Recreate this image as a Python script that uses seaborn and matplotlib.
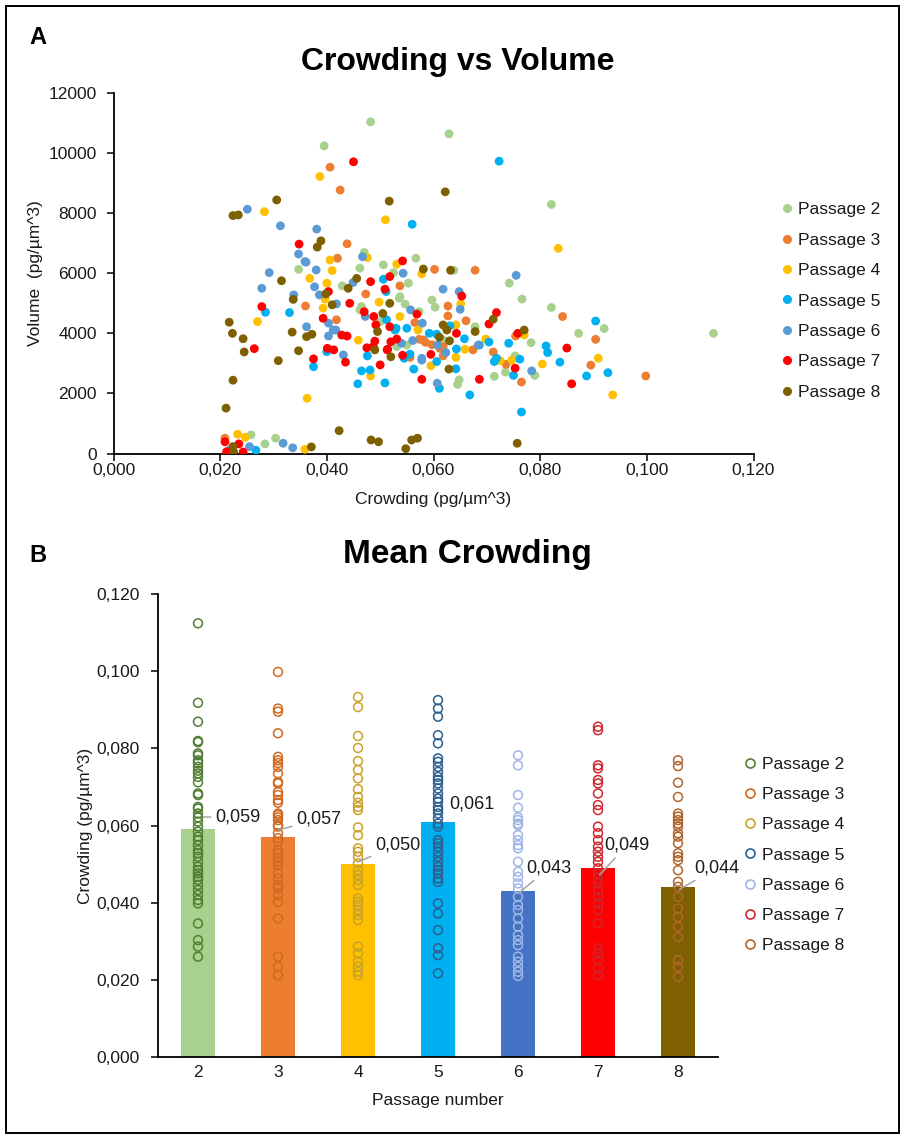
import numpy as np
import pandas as pd
import matplotlib
matplotlib.use("Agg")
import matplotlib.pyplot as plt
import seaborn as sns
from matplotlib.ticker import FuncFormatter, MultipleLocator
from matplotlib.lines import Line2D
from matplotlib.patches import Rectangle

# ---------------- data ----------------
passages = ["2", "3", "4", "5", "6", "7", "8"]
legend_labels = ["Passage 2", "Passage 3", "Passage 4", "Passage 5", "Passage 6", "Passage 7", "Passage 8"]

# Panel A: crowding (pg/um^3) vs volume
p2_crowding = [0.0482,0.0395,0.0629,0.0821,0.1125,0.0470,0.0347,0.0506,0.0567,0.0525,0.0638,0.0742,0.0766,0.0821,
               0.0920,0.0872,0.0783,0.0790,0.0753,0.0735,0.0714,0.0678,0.0648,0.0645,0.0304,0.0284,0.0258,0.0537,
               0.0597,0.0603,0.0547,0.0429,0.0465,0.0531,0.0462,0.0536,0.0553,0.0462,0.0500,0.0573,0.0550,0.0618]
p2_volume = [11040,10240,10640,8290,4000,6690,6130,6280,6500,6020,6100,5670,5140,4860,
             4160,4000,3690,2600,3250,2710,2570,4220,2450,2300,510,320,620,5220,
             5110,4870,4970,5580,4890,3560,6170,5170,5670,4780,4390,4720,3610,3780]

p3_crowding = [0.0406,0.0425,0.0438,0.0420,0.0602,0.0678,0.0360,0.0209,0.0473,0.0537,0.0581,0.0418,0.0842,0.0904,
               0.0895,0.0998,0.0765,0.0754,0.0736,0.0712,0.0674,0.0661,0.0618,0.0627,0.0627,0.0573,0.0556,0.0565,
               0.0618,0.0585,0.0597,0.0612]
p3_volume = [9530,8770,6980,6500,6130,6100,4910,510,5310,5580,3780,4450,4560,3800,
             2940,2580,2380,3910,2970,3380,3450,4420,3560,4910,4580,3800,3200,4360,
             3250,3700,3620,3500]

p4_crowding = [0.0387,0.0283,0.0510,0.0476,0.0406,0.0410,0.0531,0.0578,0.0834,0.0270,0.0363,0.0359,0.0233,0.0247,
               0.0482,0.0459,0.0595,0.0368,0.0393,0.0498,0.0537,0.0909,0.0936,0.0804,0.0770,0.0747,0.0725,0.0698,
               0.0659,0.0642,0.0642,0.0571,0.0400,0.0397,0.0651]
p4_volume = [9220,8050,7780,6520,6440,6090,6300,5980,6830,4390,1840,140,640,540,
             2580,3770,2920,5830,4840,5040,4560,3170,1950,2980,3950,3110,3090,3810,
             3470,3200,4280,4110,5670,5140,4980]

p5_crowding = [0.0560,0.0723,0.0285,0.0330,0.0375,0.0267,0.0400,0.0465,0.0481,0.0458,0.0509,0.0476,0.0512,0.0506,
               0.0563,0.0592,0.0606,0.0528,0.0545,0.0904,0.0927,0.0887,0.0837,0.0811,0.0814,0.0762,0.0765,0.0750,
               0.0741,0.0714,0.0704,0.0668,0.0686,0.0658,0.0642,0.0611,0.0643,0.0606,0.0631,0.0530,0.0511,0.0550,
               0.0718,0.0556]
p5_volume = [7630,9730,4700,4690,2890,110,3390,2750,2780,2320,2350,3250,4450,5800,
             2810,4000,3060,4110,3170,4410,2690,2580,3040,3580,3360,3140,1380,2600,
             3670,3060,3710,1950,3610,3820,2820,2170,3480,3970,4250,4170,5390,4170,
             3170,3310]

p6_crowding = [0.0251,0.0313,0.0381,0.0467,0.0347,0.0361,0.0380,0.0543,0.0292,0.0755,0.0278,0.0338,0.0362,0.0336,
               0.0318,0.0255,0.0218,0.0403,0.0417,0.0431,0.0557,0.0579,0.0561,0.0578,0.0607,0.0784,0.0623,0.0608,
               0.0650,0.0648,0.0618,0.0578,0.0540,0.0359,0.0377,0.0386,0.0449,0.0418,0.0472,0.0403,0.0412,0.0684]
p6_volume = [8130,7580,7470,6550,6640,6370,6110,6000,6020,5930,5500,5280,4220,190,
             340,230,120,3910,4110,3280,4780,4340,3760,3110,2340,2750,3360,3610,
             4800,5390,5470,3170,3670,6390,5550,5280,5690,4980,4560,4340,4110,3610]

p7_crowding = [0.0450,0.0348,0.0542,0.0518,0.0278,0.0264,0.0375,0.0209,0.0235,0.0212,0.0243,0.0393,0.0401,0.0413,
               0.0428,0.0438,0.0435,0.0500,0.0578,0.0475,0.0487,0.0490,0.0470,0.0488,0.0492,0.0518,0.0520,0.0514,
               0.0531,0.0542,0.0482,0.0509,0.0403,0.0443,0.0850,0.0859,0.0753,0.0758,0.0718,0.0704,0.0686,0.0595,
               0.0643,0.0653,0.0569,0.0513]
p7_volume = [9710,6970,6410,5890,4890,3490,3150,390,320,60,50,4500,3500,3450,
             3940,3910,3040,2950,2470,3520,3560,3740,4720,4560,4280,4220,3720,3470,
             3810,3270,5720,5470,5390,5000,3510,2320,2840,4000,4690,4310,2470,3300,
             4000,5240,4640,3450]

p8_crowding = [0.0306,0.0517,0.0224,0.0234,0.0389,0.0382,0.0581,0.0622,0.0632,0.0315,0.0337,0.0217,0.0223,0.0243,
               0.0245,0.0335,0.0362,0.0372,0.0347,0.0309,0.0224,0.0211,0.0423,0.0483,0.0497,0.0548,0.0559,0.0570,
               0.0371,0.0224,0.0225,0.0490,0.0520,0.0505,0.0495,0.0456,0.0440,0.0398,0.0410,0.0757,0.0770,0.0712,
               0.0678,0.0629,0.0630,0.0625,0.0618,0.0518,0.0611]
p8_volume = [8440,8400,7920,7940,7080,6870,6140,8710,6100,5750,5130,4370,4000,3820,
             3380,4040,3890,3970,3420,3090,2440,1510,760,450,390,160,450,510,
             220,230,60,3450,3220,4660,4060,5830,5500,5310,4950,340,4110,4470,
             4060,2810,3750,4110,4280,5000,3870]

# Panel B: individual crowding values per passage and mean crowding
strip_p2 = [0.1124,0.0918,0.0869,0.0819,0.0816,0.0787,0.0782,0.0769,0.0762,0.0752,0.0742,0.0735,0.0726,0.0712,
            0.0683,0.0679,0.0648,0.0644,0.0631,0.0621,0.0610,0.0597,0.0584,0.0571,0.0562,0.0549,0.0536,0.0528,
            0.0519,0.0506,0.0493,0.0484,0.0476,0.0467,0.0459,0.0446,0.0433,0.0420,0.0407,0.0398,0.0346,0.0303,
            0.0286,0.0260]
strip_p3 = [0.0998,0.0903,0.0895,0.0839,0.0778,0.0769,0.0762,0.0752,0.0735,0.0713,0.0709,0.0687,0.0679,0.0666,
            0.0659,0.0631,0.0627,0.0621,0.0614,0.0601,0.0597,0.0580,0.0567,0.0558,0.0536,0.0528,0.0515,0.0506,
            0.0497,0.0476,0.0463,0.0446,0.0437,0.0420,0.0402,0.0359,0.0260,0.0234,0.0212]
strip_p4 = [0.0933,0.0907,0.0832,0.0801,0.0767,0.0744,0.0722,0.0694,0.0674,0.0659,0.0648,0.0640,0.0595,0.0575,
            0.0541,0.0532,0.0519,0.0502,0.0484,0.0472,0.0459,0.0446,0.0411,0.0402,0.0394,0.0381,0.0368,0.0355,
            0.0286,0.0269,0.0247,0.0234,0.0221,0.0212]
strip_p5 = [0.0925,0.0903,0.0882,0.0834,0.0813,0.0774,0.0765,0.0752,0.0739,0.0726,0.0718,0.0709,0.0696,0.0683,
            0.0670,0.0661,0.0648,0.0640,0.0631,0.0618,0.0605,0.0597,0.0562,0.0554,0.0545,0.0532,0.0519,0.0506,
            0.0493,0.0484,0.0476,0.0463,0.0454,0.0398,0.0372,0.0329,0.0282,0.0264,0.0217]
strip_p6 = [0.0782,0.0756,0.0679,0.0646,0.0621,0.0614,0.0605,0.0601,0.0575,0.0562,0.0549,0.0541,0.0506,0.0480,
            0.0467,0.0450,0.0437,0.0415,0.0394,0.0381,0.0359,0.0338,0.0316,0.0303,0.0290,0.0260,0.0247,0.0234,
            0.0221,0.0210]
strip_p7 = [0.0856,0.0847,0.0756,0.0748,0.0718,0.0709,0.0683,0.0653,0.0640,0.0597,0.0580,0.0562,0.0545,0.0532,
            0.0519,0.0506,0.0489,0.0476,0.0463,0.0450,0.0433,0.0415,0.0398,0.0381,0.0346,0.0282,0.0269,0.0251,
            0.0230,0.0212]
strip_p8 = [0.0769,0.0754,0.0711,0.0674,0.0631,0.0623,0.0614,0.0605,0.0597,0.0580,0.0571,0.0554,0.0528,0.0519,
            0.0510,0.0484,0.0454,0.0441,0.0415,0.0385,0.0363,0.0338,0.0311,0.0251,0.0234,0.0208]

mean_crowding = [0.059, 0.057, 0.050, 0.061, 0.043, 0.049, 0.044]
mean_labels = ["0,059", "0,057", "0,050", "0,061", "0,043", "0,049", "0,044"]

scatter_colors = ["#A9D18E", "#ED7D31", "#FFC000", "#00B0F0", "#5B9BD5", "#FF0000", "#7F6000"]
bar_colors = ["#A9D18E", "#ED7D31", "#FFC000", "#00B0F0", "#4472C4", "#FF0000", "#7F6000"]
strip_colors = ["#507E32", "#D2691E", "#C9A227", "#2A5F8F", "#9FB6E6", "#D0262B", "#B0652F"]

# ---------------- build frames ----------------
crowd_lists = [p2_crowding, p3_crowding, p4_crowding, p5_crowding, p6_crowding, p7_crowding, p8_crowding]
vol_lists = [p2_volume, p3_volume, p4_volume, p5_volume, p6_volume, p7_volume, p8_volume]
rows = []
for lab, cl, vl in zip(legend_labels, crowd_lists, vol_lists):
    for c, v in zip(cl, vl):
        rows.append((lab, c, v))
df_sc = pd.DataFrame(rows, columns=["Passage", "Crowding", "Volume"])

strip_lists = [strip_p2, strip_p3, strip_p4, strip_p5, strip_p6, strip_p7, strip_p8]
rows = []
for p, sl in zip(passages, strip_lists):
    for v in sl:
        rows.append((p, v))
df_st = pd.DataFrame(rows, columns=["Passage", "Crowding"])
df_bar = pd.DataFrame({"Passage": passages, "Mean": mean_crowding})

# ---------------- figure ----------------
sns.set_theme(style="white")
plt.rcParams["font.family"] = ["Liberation Sans", "DejaVu Sans"]
plt.rcParams["axes.unicode_minus"] = False

W, H = 905, 1139
fig = plt.figure(figsize=(W / 100, H / 100), dpi=100)
fig.patch.set_facecolor("white")


def box(l, t, r, b):
    return [l / W, 1 - b / H, (r - l) / W, (b - t) / H]


def fx(px):
    return px / W


def fy(py):
    return 1 - py / H


TXT = "#1a1a1a"
FS = 12.5
comma3 = FuncFormatter(lambda v, p: f"{v:.3f}".replace(".", ","))

# ---- Panel A ----
axa = fig.add_axes(box(113.5, 93, 753.5, 453.5))
sns.scatterplot(data=df_sc, x="Crowding", y="Volume", hue="Passage",
                palette=dict(zip(legend_labels, scatter_colors)), s=40, linewidth=0,
                legend=False, ax=axa, zorder=3)
axa.set_xlim(0, 0.12)
axa.set_ylim(0, 12000)
axa.xaxis.set_major_locator(MultipleLocator(0.02))
axa.yaxis.set_major_locator(MultipleLocator(2000))
axa.xaxis.set_major_formatter(comma3)
axa.set_xlabel("")
axa.set_ylabel("")
axa.tick_params(axis="both", direction="out", length=5, width=1.1, colors="black",
                labelsize=FS, labelcolor=TXT, bottom=True, left=True)
axa.tick_params(axis="y", pad=7)
axa.tick_params(axis="x", pad=2)
sns.despine(ax=axa)
for s in ["left", "bottom"]:
    axa.spines[s].set_color("black")
    axa.spines[s].set_linewidth(1.3)

fig.text(fx(458), fy(62), "Crowding vs Volume", ha="center", va="center",
         fontsize=23, fontweight="bold", color="black")
fig.text(fx(433), fy(500), "Crowding (pg/µm^3)", ha="center", va="center", fontsize=FS, color=TXT)
fig.text(fx(36), fy(273), "Volume  (pg/µm^3)", ha="center", va="center", rotation=90,
         fontsize=FS, color=TXT)

handles_a = [Line2D([], [], marker="o", linestyle="none", markersize=5.5,
                    markerfacecolor=c, markeredgecolor=c) for c in scatter_colors]
fig.legend(handles_a, legend_labels, loc="center left", bbox_to_anchor=(fx(782), fy(301)),
           bbox_transform=fig.transFigure, frameon=False, fontsize=FS, borderpad=0,
           borderaxespad=0, handlelength=0.6, handletextpad=0.3, labelspacing=0.88,
           labelcolor=TXT)

# ---- Panel B ----
axb = fig.add_axes(box(158, 594, 718, 1057))
sns.barplot(data=df_bar, x="Passage", y="Mean", hue="Passage", order=passages,
            palette=dict(zip(passages, bar_colors)), width=0.42, linewidth=0,
            saturation=1, legend=False, ax=axb, zorder=2)
n_before = len(axb.collections)
sns.stripplot(data=df_st, x="Passage", y="Crowding", hue="Passage", order=passages,
              palette=dict(zip(passages, strip_colors)), jitter=False, size=6.4,
              linewidth=0, legend=False, ax=axb, zorder=3)
for coll in axb.collections[n_before:]:
    fc = coll.get_facecolors()
    coll.set_edgecolors(fc)
    coll.set_facecolors("none")
    coll.set_linewidth(1.1)

axb.set_xlim(-0.5, 6.5)
axb.set_ylim(0, 0.12)
axb.yaxis.set_major_locator(MultipleLocator(0.02))
axb.yaxis.set_major_formatter(comma3)
axb.set_xlabel("")
axb.set_ylabel("")
axb.tick_params(axis="y", direction="out", length=5, width=1.1, colors="black",
                labelsize=FS, labelcolor=TXT, left=True, pad=8)
axb.tick_params(axis="x", length=0, labelsize=FS, labelcolor=TXT, pad=6)
sns.despine(ax=axb)
for s in ["left", "bottom"]:
    axb.spines[s].set_color("black")
    axb.spines[s].set_linewidth(1.3)

# value labels with leader lines (positions in data coordinates)
label_pos = [(0.50, 0.0622), (1.5125, 0.0617), (2.50, 0.0549), (3.425, 0.0655),
             (4.3875, 0.0490), (5.3625, 0.0549), (6.4875, 0.0490)]
leader_end = [(0.07, 0.0622), (1.0, 0.0588), (1.99, 0.0505), None,
              (4.01, 0.0425), (5.02, 0.0472), (6.02, 0.0435)]
for lab, (tx, ty), le in zip(mean_labels, label_pos, leader_end):
    if le is None:
        axb.text(tx, ty, lab, ha="center", va="center", fontsize=13, color=TXT,
                 zorder=6, clip_on=False)
    else:
        axb.annotate(lab, xy=le, xytext=(tx, ty), textcoords="data", ha="center", va="center",
                     fontsize=13, color=TXT, zorder=6, annotation_clip=False,
                     arrowprops=dict(arrowstyle="-", color="#A6A6A6", lw=1.1,
                                     shrinkA=1, shrinkB=0))

fig.text(fx(467), fy(555), "Mean Crowding", ha="center", va="center",
         fontsize=24, fontweight="bold", color="black")
fig.text(fx(438), fy(1100), "Passage number", ha="center", va="center", fontsize=FS, color=TXT)
fig.text(fx(85), fy(826), "Crowding (pg/µm^3)", ha="center", va="center", rotation=90,
         fontsize=FS, color=TXT)

handles_b = [Line2D([], [], marker="o", linestyle="none", markersize=6.5,
                    markerfacecolor="none", markeredgecolor=c, markeredgewidth=1.2)
             for c in strip_colors]
fig.legend(handles_b, legend_labels, loc="center left", bbox_to_anchor=(fx(744), fy(855)),
           bbox_transform=fig.transFigure, frameon=False, fontsize=FS, borderpad=0,
           borderaxespad=0, handlelength=0.7, handletextpad=0.35, labelspacing=0.86,
           labelcolor=TXT)

# panel letters and outer frame
fig.text(fx(38), fy(38), "A", ha="center", va="center", fontsize=17, fontweight="bold", color="black")
fig.text(fx(38), fy(555), "B", ha="center", va="center", fontsize=17, fontweight="bold", color="black")
fig.add_artist(Rectangle((fx(6), fy(1133)), (893) / W, (1127) / H, transform=fig.transFigure,
                         fill=False, edgecolor="black", linewidth=1.4))

fig.savefig("out.png", dpi=100, facecolor="white")
